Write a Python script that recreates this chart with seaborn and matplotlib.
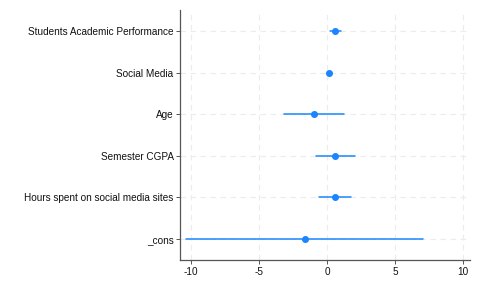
import pandas as pd
import seaborn as sns
import matplotlib.pyplot as plt

# Coefficients and 95% CI
variables = ['Students Academic Performance', 'Social Media', 'Age',
             'Semester CGPA', 'Hours spent on social media sites', '_cons']
coef = [0.59, 0.10, -0.98, 0.57, 0.55, -1.64]
ci_low = [0.22, 0.04, -3.21, -0.83, -0.61, -10.37]
ci_high = [0.98, 0.16, 1.25, 2.01, 1.72, 7.06]
x_ticks = [-10, -5, 0, 5, 10]


def build_frame():
    rows = []
    for v, lo, b, hi in zip(variables, ci_low, coef, ci_high):
        for val in (lo, b, hi):
            rows.append({'variable': v, 'value': val})
    return pd.DataFrame(rows)


def draw_coefplot(df):
    sns.set_style('white')
    plt.rcParams['font.family'] = ['Liberation Sans', 'DejaVu Sans']

    fig = plt.figure(figsize=(4.8, 2.81), dpi=100)
    ax = fig.add_axes([0.376, 0.075, 0.603, 0.889])

    blue = '#1a85ff'
    # median of (lo, b, hi) is b; errorbar spans lo..hi
    sns.pointplot(data=df, x='value', y='variable', order=variables,
                  estimator='median', errorbar=lambda s: (s.min(), s.max()),
                  linestyle='none', color=blue, markersize=3.0,
                  err_kws={'linewidth': 1.1}, ax=ax)

    ax.set_xlim(-10.78, 10.48)
    ax.set_ylim(5.5, -0.5)
    ax.set_xticks(x_ticks)
    ax.set_xticklabels([str(t) for t in x_ticks])
    ax.set_xlabel('')
    ax.set_ylabel('')

    ax.grid(True, linestyle=(0, (5, 4)), color='#ececec', linewidth=0.8)
    ax.set_axisbelow(True)

    for side in ('top', 'right'):
        ax.spines[side].set_visible(False)
    for side in ('left', 'bottom'):
        ax.spines[side].set_color('#555555')
        ax.spines[side].set_linewidth(0.9)

    ax.tick_params(axis='both', which='both', length=3, width=0.7,
                   color='#555555', labelsize=7.2, labelcolor='#111111',
                   left=True, bottom=True, pad=2)

    fig.savefig('out.png', dpi=100)


if __name__ == "__main__":
    draw_coefplot(build_frame())
